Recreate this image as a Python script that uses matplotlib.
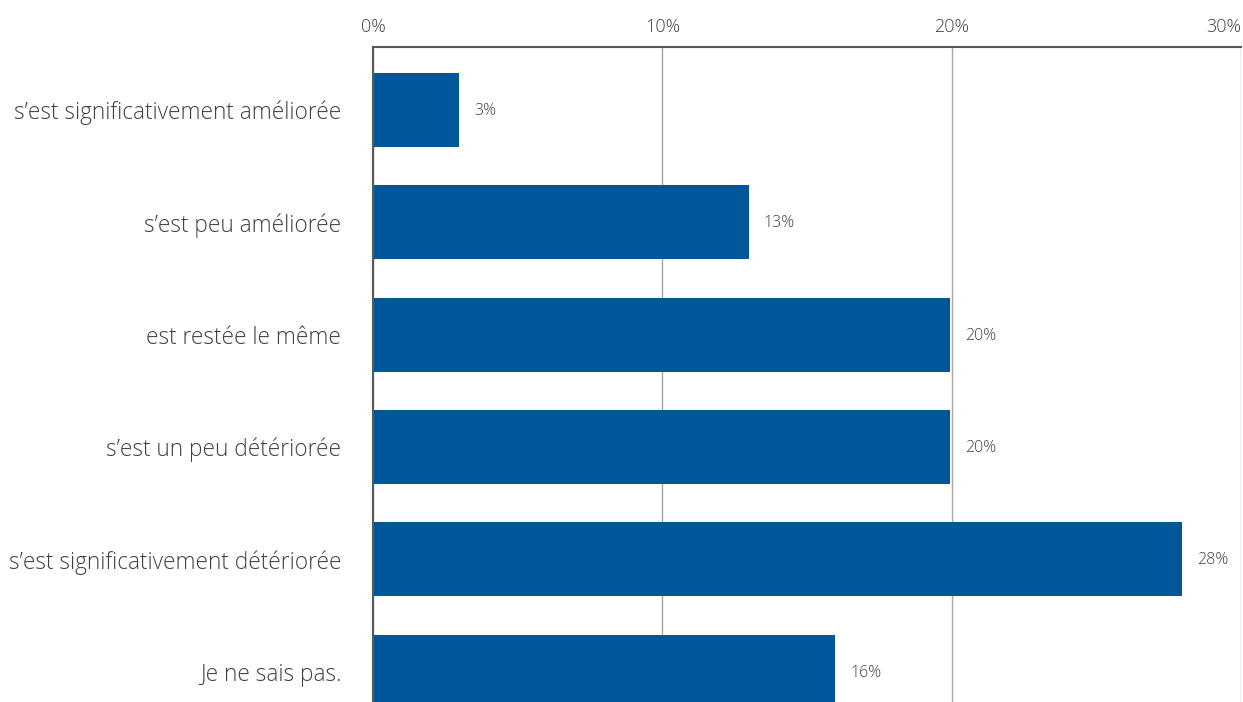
import matplotlib.pyplot as plt
from matplotlib.ticker import FuncFormatter
from matplotlib.transforms import offset_copy

categories = ["s\u2019est significativement améliorée", "s\u2019est peu améliorée",
              "est restée le même", "s\u2019est un peu détériorée",
              "s\u2019est significativement détériorée", "Je ne sais pas."]
values = [2.97, 12.98, 19.95, 19.95, 27.96, 15.98]
value_labels = ["3%", "13%", "20%", "20%", "28%", "16%"]
xticks = [0, 10, 20, 30]

plt.rcParams['font.family'] = ['Open Sans', 'DejaVu Sans']
text_color = '#404040'

fig = plt.figure(figsize=(12.43, 7.02), dpi=100)
ax = fig.add_axes([373 / 1243, 0.0, (1241 - 373) / 1243, 1 - 47 / 702])

y = list(range(len(categories)))
ax.barh(y, values, height=0.66, color='#00589b', zorder=3)

# value labels to the right of each bar
trans = offset_copy(ax.transData, fig=fig, x=15, y=-1, units='dots')
for yi, v, lab in zip(y, values, value_labels):
    ax.text(v, yi, lab, transform=trans, ha='left', va='center',
            fontsize=11.5, color=text_color, fontweight='light')

ax.set_xlim(0, 30)
ax.set_ylim(5.27, -0.56)
ax.set_yticks(y)
ax.set_yticklabels(categories, fontsize=16.3, color=text_color, fontweight='light')
ax.tick_params(axis='y', length=0, pad=23)

ax.xaxis.tick_top()
ax.set_xticks(xticks)
ax.xaxis.set_major_formatter(FuncFormatter(lambda v, p: f"{v:.0f}%"))
ax.tick_params(axis='x', length=0, pad=8, labelsize=13, labelcolor=text_color)
for t in ax.get_xticklabels():
    t.set_fontweight('light')
ax.get_xticklabels()[-1].set_ha('right')

ax.grid(axis='x', color='#a6a6a6', linewidth=1, zorder=0)
for s in ['right', 'bottom']:
    ax.spines[s].set_visible(False)
ax.spines['top'].set_color('#595959')
ax.spines['top'].set_linewidth(1.5)
ax.spines['left'].set_color('#595959')
ax.spines['left'].set_linewidth(1.5)
ax.spines['left'].set_zorder(4)

fig.savefig('out.png', dpi=100)
